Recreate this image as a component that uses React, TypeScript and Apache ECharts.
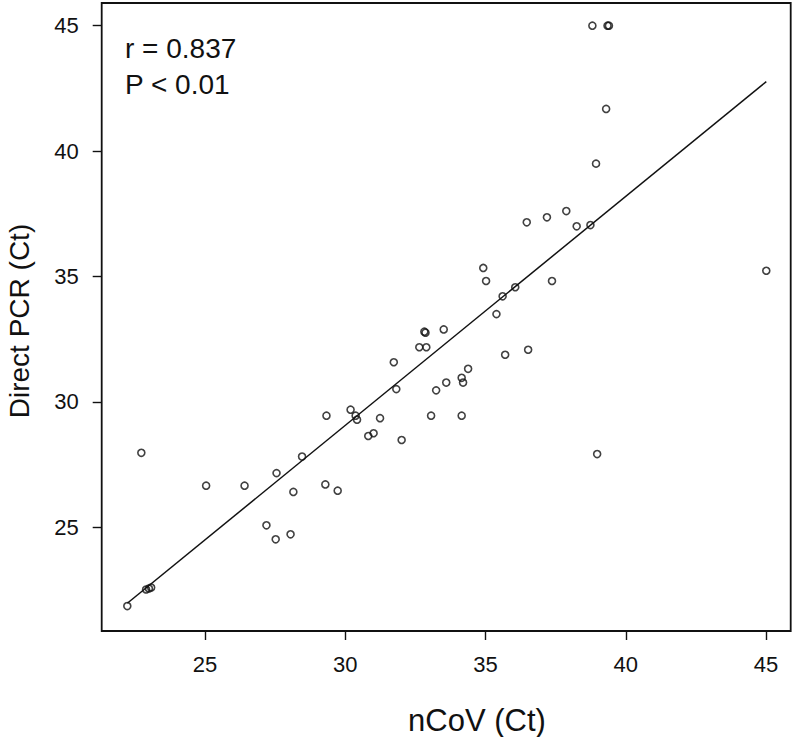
import React, { useEffect, useRef } from "react";
import * as echarts from "echarts";

// nCoV (Ct) values
const nCoV: number[] = [
  22.23, 22.9, 23.0, 23.08, 22.73, 25.04, 26.41, 27.55, 28.46, 28.15,
  29.29, 29.73, 27.19, 27.52, 28.05, 29.33, 30.19, 30.37, 30.42, 31.24,
  30.82, 31.01, 32.01, 31.73, 31.82, 32.82, 32.86, 32.64, 32.89, 33.51,
  33.06, 33.24, 33.6, 34.92, 35.02, 35.61, 36.06, 37.37, 45.01, 35.39,
  35.7, 36.52, 34.38, 34.15, 34.2, 34.15, 38.98, 36.47, 37.19, 37.88,
  38.25, 38.74, 38.94, 39.3, 38.81, 39.35, 39.4,
];
// Direct PCR (Ct) values
const directPCR: number[] = [
  21.86, 22.52, 22.56, 22.6, 27.97, 26.66, 26.66, 27.16, 27.82, 26.41,
  26.71, 26.46, 25.08, 24.52, 24.72, 29.45, 29.69, 29.45, 29.29, 29.35,
  28.64, 28.75, 28.48, 31.58, 30.51, 32.8, 32.76, 32.18, 32.18, 32.89,
  29.45, 30.46, 30.77, 35.34, 34.82, 34.21, 34.57, 34.82, 35.23, 33.5,
  31.88, 32.08, 31.32, 30.96, 30.77, 29.45, 27.92, 37.16, 37.36, 37.61,
  37.0, 37.05, 39.5, 41.68, 45.0, 45.0, 45.0,
];
// fitted regression line endpoints
const fitX: number[] = [22.23, 45.01];
const fitY: number[] = [21.97, 42.77];

const xTicks: number[] = [25, 30, 35, 40, 45];
const yTicks: number[] = [25, 30, 35, 40, 45];

const annotations: string[] = ["r = 0.837", "P < 0.01"];
const xTitle = "nCoV (Ct)";
const yTitle = "Direct PCR (Ct)";

const FONT = "'Liberation Sans', Arial, Helvetica, sans-serif";

export default function App() {
  const ref = useRef<HTMLDivElement>(null);
  useEffect(() => {
    if (!ref.current) return;
    const chart = echarts.init(ref.current, null, { renderer: "svg" });
    const points = nCoV.map((x, i) => [x, directPCR[i]]);
    const fit = fitX.map((x, i) => [x, fitY[i]]);
    chart.setOption({
      animation: false,
      backgroundColor: "#ffffff",
      grid: {
        left: 101.7,
        right: 4.3,
        top: 3,
        bottom: 106,
        show: true,
        borderColor: "#111",
        borderWidth: 1.8,
        containLabel: false,
      },
      xAxis: {
        type: "value",
        min: 21.317,
        max: 45.88,
        splitLine: { show: false },
        axisLine: { show: false },
        axisTick: {
          show: true,
          inside: false,
          length: 9,
          customValues: xTicks,
          lineStyle: { color: "#111", width: 1.4 },
        },
        axisLabel: {
          show: true,
          customValues: xTicks,
          margin: 22,
          fontSize: 22,
          color: "#111",
          fontFamily: FONT,
        },
      },
      yAxis: {
        type: "value",
        min: 20.865,
        max: 45.905,
        splitLine: { show: false },
        axisLine: { show: false },
        axisTick: {
          show: true,
          inside: false,
          length: 9,
          customValues: yTicks,
          lineStyle: { color: "#111", width: 1.4 },
        },
        axisLabel: {
          show: true,
          customValues: yTicks,
          margin: 23,
          fontSize: 22,
          color: "#111",
          fontFamily: FONT,
        },
      },
      series: [
        {
          type: "line",
          data: fit,
          symbol: "none",
          lineStyle: { color: "#111", width: 1.5 },
          z: 2,
        },
        {
          type: "scatter",
          data: points,
          symbol: "circle",
          symbolSize: 7,
          itemStyle: {
            color: "rgba(0,0,0,0)",
            borderColor: "#111",
            borderWidth: 1.6,
          },
          z: 3,
        },
      ],
      graphic: [
        {
          type: "text",
          left: 125,
          top: 34,
          style: {
            text: annotations[0],
            fontSize: 28,
            fontFamily: FONT,
            fill: "#111",
          },
        },
        {
          type: "text",
          left: 125,
          top: 70,
          style: {
            text: annotations[1],
            fontSize: 28,
            fontFamily: FONT,
            fill: "#111",
          },
        },
        {
          type: "text",
          x: 477,
          y: 720,
          style: {
            text: xTitle,
            fontSize: 31,
            fontFamily: FONT,
            fill: "#111",
            align: "center",
            verticalAlign: "middle",
          },
        },
        {
          type: "text",
          x: 19,
          y: 321,
          rotation: Math.PI / 2,
          style: {
            text: yTitle,
            fontSize: 28,
            fontFamily: FONT,
            fill: "#111",
            align: "center",
            verticalAlign: "middle",
          },
        },
      ],
    });
    return () => chart.dispose();
  }, []);
  return (
    <div
      ref={ref}
      style={{ position: "absolute", left: 0, top: 0, width: 795, height: 737 }}
    />
  );
}
